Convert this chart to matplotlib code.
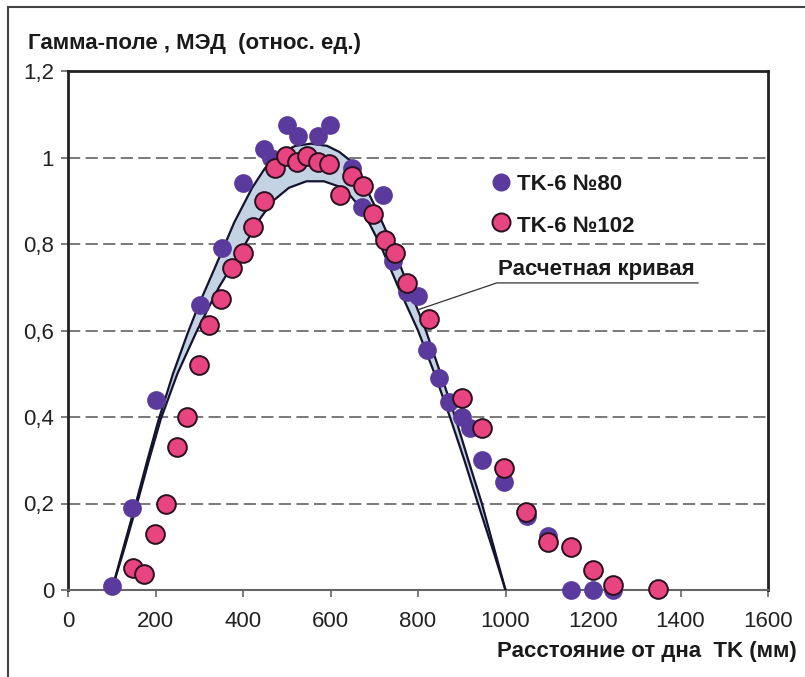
import numpy as np
import matplotlib
matplotlib.use('Agg')
import matplotlib.pyplot as plt
from matplotlib.lines import Line2D

plt.rcParams['font.family'] = ['Liberation Sans', 'DejaVu Sans']

# measured points, TK-6 N80 (distance mm, relative dose rate)
tk80_x = [100, 146, 200, 302, 352, 400, 448, 465, 500, 525, 571, 599, 649, 672,
          720, 743, 775, 800, 820, 848, 871, 900, 919, 946, 997, 1048, 1097,
          1150, 1200, 1246]
tk80_y = [0.01, 0.19, 0.44, 0.66, 0.79, 0.94, 1.02, 1.0, 1.075, 1.05, 1.05, 1.075,
          0.975, 0.885, 0.913, 0.76, 0.69, 0.68, 0.555, 0.49, 0.435, 0.40, 0.375,
          0.30, 0.25, 0.17, 0.125, 0.0, 0.0, 0.0]

# TK-6 N102
tk102_x = [148, 174, 199, 224, 248, 272, 300, 322, 350, 375, 400, 423, 448, 473,
           498, 523, 547, 571, 597, 622, 649, 674, 697, 725, 747, 775, 825, 900,
           946, 997, 1047, 1097, 1150, 1200, 1246, 1349]
tk102_y = [0.05, 0.037, 0.13, 0.20, 0.33, 0.40, 0.52, 0.613, 0.673, 0.745, 0.78,
           0.84, 0.90, 0.975, 1.003, 0.99, 1.003, 0.99, 0.985, 0.913, 0.957, 0.934,
           0.87, 0.81, 0.78, 0.71, 0.627, 0.443, 0.375, 0.283, 0.18, 0.11, 0.10,
           0.046, 0.012, 0.003]

# calculated curve, upper and lower bounds of the band
up_x = [100, 130, 155, 180, 206, 240, 274, 300, 340, 380, 421, 450, 485, 520, 555,
        592, 620, 645, 674, 705, 736, 775, 818, 850, 885, 915, 946, 973, 1000]
up_y = [0, 0.11, 0.2, 0.295, 0.39, 0.5, 0.595, 0.662, 0.755, 0.85, 0.93, 0.975, 1.01,
        1.027, 1.032, 1.027, 1.013, 0.993, 0.945, 0.88, 0.81, 0.71, 0.6, 0.505, 0.4,
        0.3, 0.2, 0.1, 0]
lo_x = [100, 130, 158, 185, 212, 250, 295, 345, 405, 440, 469, 505, 545, 585, 622,
        645, 667, 690, 713, 755, 800, 838, 873, 906, 937, 969, 1000]
lo_y = [0, 0.1, 0.2, 0.3, 0.395, 0.5, 0.6, 0.7, 0.8, 0.86, 0.9, 0.93, 0.945, 0.945,
        0.932, 0.912, 0.886, 0.845, 0.8, 0.7, 0.6, 0.5, 0.4, 0.3, 0.2, 0.1, 0]

yticks = [0, 0.2, 0.4, 0.6, 0.8, 1.0, 1.2]
ytick_labels = ['0', '0,2', '0,4', '0,6', '0,8', '1', '1,2']
xticks = [0, 200, 400, 600, 800, 1000, 1200, 1400, 1600]

purple = '#5a3a9c'
pink = '#e8447f'

fig = plt.figure(figsize=(8.05, 6.77), dpi=100)
ax = fig.add_axes([68 / 805, 1 - 590 / 677, 700 / 805, 519 / 677])

# outer frame of the picture
fig.add_artist(Line2D([8 / 805, 1.0], [1 - 7 / 677] * 2, color='#444444', lw=1.5,
                      transform=fig.transFigure))
fig.add_artist(Line2D([8 / 805] * 2, [0, 1 - 7 / 677], color='#444444', lw=1.5,
                      transform=fig.transFigure))

# band of the calculated curve
ax.fill(up_x + lo_x[::-1], up_y + lo_y[::-1], color='#c3d3e4', zorder=2)
ax.plot(up_x, up_y, color='#14142e', lw=1.6, zorder=3)
ax.plot(lo_x, lo_y, color='#14142e', lw=1.6, zorder=3)

ax.plot(tk80_x, tk80_y, 'o', ms=13.5, color=purple, mec='none', zorder=4, clip_on=False)
ax.plot(tk102_x, tk102_y, 'o', ms=13.5, color=pink, mec='#2a1020', mew=1.4, zorder=5,
        clip_on=False)

# legend drawn by hand
ax.plot([990], [0.943], 'o', ms=13, color=purple, mec='none', zorder=5)
ax.plot([990], [0.851], 'o', ms=13, color=pink, mec='#2a1020', mew=1.4, zorder=5)
ax.text(1026, 0.937, 'TK-6 №80', fontsize=16, fontweight='bold', va='center',
        color='#1a1a1a')
ax.text(1026, 0.841, 'TK-6 №102', fontsize=16, fontweight='bold', va='center',
        color='#1a1a1a')

# label of the calculated curve
ax.plot([800, 980, 1440], [0.648, 0.71, 0.71], color='#333333', lw=0.9, zorder=3)
ax.text(1207, 0.716, 'Расчетная кривая', fontsize=16, fontweight='bold',
        ha='center', va='bottom', color='#1a1a1a')

ax.set_xlim(0, 1600)
ax.set_ylim(0, 1.2)
ax.set_xticks(xticks)
ax.set_yticks(yticks)
ax.set_yticklabels(ytick_labels)
ax.tick_params(axis='both', labelsize=16, colors='#666666', labelcolor='#222222',
               direction='out', length=5, width=1.2)
ax.tick_params(axis='x', pad=10)
ax.tick_params(axis='y', pad=5)

for y in yticks[1:-1]:
    ax.axhline(y, color='#555555', lw=1.1, ls=(0, (8, 3.5)), zorder=1)

for s in ['left', 'top', 'right']:
    ax.spines[s].set_color('#222222')
    ax.spines[s].set_linewidth(2)
ax.spines['bottom'].set_color('#666666')
ax.spines['bottom'].set_linewidth(1.5)

fig.text(28 / 805, 1 - 43 / 677, 'Гамма-поле , МЭД  (относ. ед.)', fontsize=16,
         fontweight='bold', va='center', ha='left', color='#1a1a1a')
fig.text(797 / 805, 1 - 651 / 677, 'Расстояние от дна  TK (мм)', fontsize=16,
         fontweight='bold', va='center', ha='right', color='#1a1a1a')

fig.savefig('out.png', dpi=100)
